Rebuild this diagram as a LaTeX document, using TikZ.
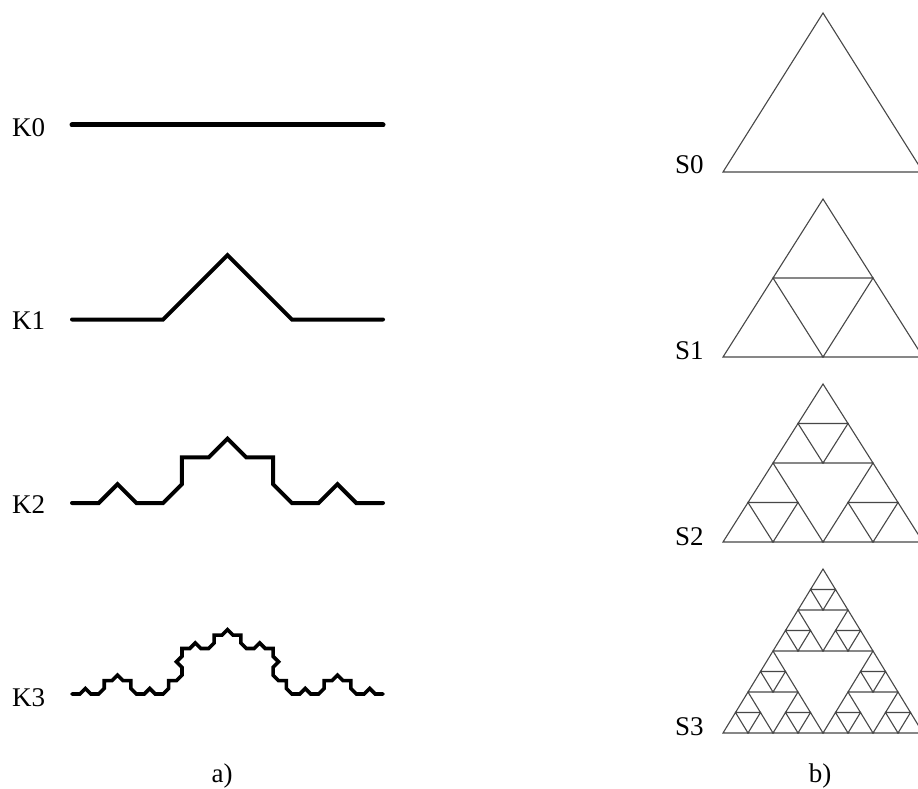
\documentclass[tikz,border=0pt]{standalone}
\usepackage{fontspec}
\setmainfont{Liberation Serif}
\tikzset{
  koch/.style={line width=#1, line cap=round, line join=miter, draw=black},
  sier/.style={line width=1.1pt, black!72, line join=miter},
  lbl/.style={anchor=base west, inner sep=0pt, font=\fontsize{27}{32}\selectfont},
  captionlbl/.style={anchor=base, inner sep=0pt, font=\fontsize{27}{32}\selectfont},
}
% turtle for the 45-degree Koch curve
\newdimen\kx \newdimen\ky \newcount\kh \newdimen\kstep
\def\kochF#1{%
  \ifnum#1=0
    \pgfmathsetlength\kx{\the\kx+\the\kstep*cos(\the\kh)}%
    \pgfmathsetlength\ky{\the\ky+\the\kstep*sin(\the\kh)}%
    \pgfpathlineto{\pgfqpoint{\kx}{\ky}}%
  \else
    \expandafter\kochsub\expandafter{\the\numexpr#1-1\relax}%
  \fi}
\def\kochsub#1{\kochF{#1}\advance\kh45 \kochF{#1}\advance\kh-90 \kochF{#1}\advance\kh45 \kochF{#1}}
\newcommand\kochcurve[5]{% #1 order, #2 x, #3 y (image), #4 step, #5 width
  \begin{scope}[koch=#5]
    \kx=#2pt \ky=-#3pt \kh=0 \kstep=#4pt
    \pgfpathmoveto{\pgfqpoint{\kx}{\ky}}%
    \kochF{#1}%
    \pgfusepath{stroke}%
  \end{scope}}
\newcommand\sierlevel[5]{% #1 level, #2 x left, #3 base y, #4 width, #5 height
  \ifcase#1
    \draw[sier] (#2,#3) -- ++(#4,0) -- ++(-#4/2,-#5) -- cycle;
  \or
    \foreach \a in {0,1,2}{
      \pgfmathsetmacro\dx{{0,#4/2,#4/4}[\a]}
      \pgfmathsetmacro\dy{{0,0,-#5/2}[\a]}
      \draw[sier] (#2+\dx,#3+\dy) -- ++(#4/2,0) -- ++(-#4/4,-#5/2) -- cycle;
    }
  \or
    \foreach \a in {0,1,2}{\foreach \b in {0,1,2}{
      \pgfmathsetmacro\dx{{0,#4/2,#4/4}[\a]+{0,#4/4,#4/8}[\b]}
      \pgfmathsetmacro\dy{{0,0,-#5/2}[\a]+{0,0,-#5/4}[\b]}
      \draw[sier] (#2+\dx,#3+\dy) -- ++(#4/4,0) -- ++(-#4/8,-#5/4) -- cycle;
    }}
  \or
    \foreach \a in {0,1,2}{\foreach \b in {0,1,2}{\foreach \c in {0,1,2}{
      \pgfmathsetmacro\dx{{0,#4/2,#4/4}[\a]+{0,#4/4,#4/8}[\b]+{0,#4/8,#4/16}[\c]}
      \pgfmathsetmacro\dy{{0,0,-#5/2}[\a]+{0,0,-#5/4}[\b]+{0,0,-#5/8}[\c]}
      \draw[sier] (#2+\dx,#3+\dy) -- ++(#4/8,0) -- ++(-#4/16,-#5/8) -- cycle;
    }}}
  \fi
}
\begin{document}
\begin{tikzpicture}[x=1pt,y=-1pt]
\useasboundingbox (0,0) rectangle (918,789);
\fill[white] (0,0) rectangle (918,789);
\clip (0,0) rectangle (918,789);
% Koch curves
\coordinate (k0s) at (72,125);
\coordinate (k0e) at (383,125);
\draw[koch=5pt] (k0s) -- (k0e);
\kochcurve{1}{72}{319.5}{91.09}{4pt}
\kochcurve{2}{72}{503}{26.68}{4pt}
\kochcurve{3}{72}{694}{7.815}{3.6pt}
\node[lbl] (K0) at (12,136) {K0};
\node[lbl] (K1) at (12,329) {K1};
\node[lbl] (K2) at (12,513) {K2};
\node[lbl] (K3) at (12,706) {K3};
% Sierpinski
\sierlevel{0}{723}{172}{200}{159}
\sierlevel{1}{723}{357}{200}{158}
\sierlevel{2}{723}{542}{200}{158}
\sierlevel{3}{723}{733}{200}{164}
\node[lbl] (S0) at (675,173) {S0};
\node[lbl] (S1) at (675,359) {S1};
\node[lbl] (S2) at (675,545) {S2};
\node[lbl] (S3) at (675,735) {S3};
\node[captionlbl] (ca) at (222,782) {a)};
\node[captionlbl] (cb) at (820,782) {b)};
\end{tikzpicture}
\end{document}
